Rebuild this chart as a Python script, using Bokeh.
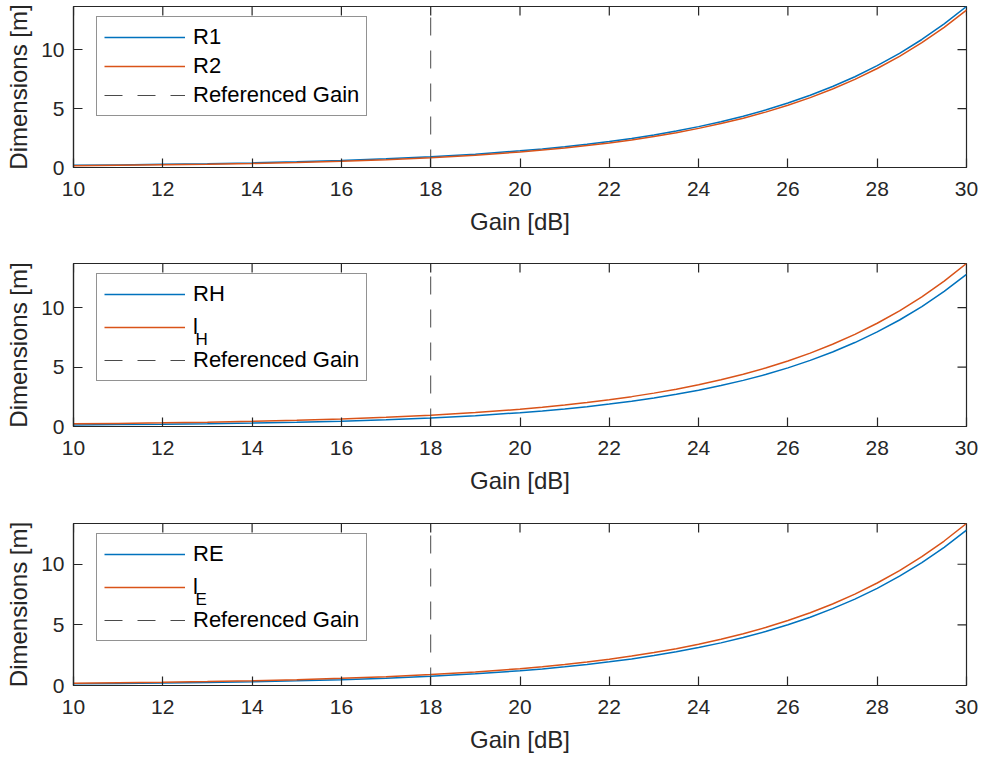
from bokeh.plotting import figure
from bokeh.models import Range1d, Legend, LegendItem, FixedTicker
from bokeh.core.properties import value
from bokeh.layouts import column
from bokeh.embed import file_html
from bokeh.resources import INLINE

# ---------------- data ----------------
GAIN = [10, 11, 12, 13, 14, 15, 16, 17, 18, 19,
        20, 20.5, 21, 21.5, 22, 22.5, 23, 23.5, 24, 24.5, 25,
        25.5, 26, 26.5, 27, 27.5, 28, 28.5, 29, 29.5, 30]

R1 = [0.186, 0.221, 0.266, 0.321, 0.392, 0.480, 0.591, 0.732, 0.908, 1.130,
      1.410, 1.576, 1.762, 1.971, 2.205, 2.468, 2.764, 3.095, 3.466, 3.883, 4.351,
      4.875, 5.464, 6.125, 6.866, 7.698, 8.631, 9.678, 10.853, 12.171, 13.65]
R2 = [0.156, 0.187, 0.228, 0.279, 0.344, 0.427, 0.531, 0.665, 0.833, 1.045,
      1.315, 1.476, 1.656, 1.858, 2.086, 2.341, 2.630, 2.953, 3.316, 3.724, 4.182,
      4.696, 5.275, 5.924, 6.654, 7.473, 8.393, 9.426, 10.586, 11.888, 13.35]

RH = [0.134, 0.159, 0.190, 0.232, 0.286, 0.357, 0.449, 0.567, 0.719, 0.914,
      1.162, 1.311, 1.480, 1.669, 1.884, 2.126, 2.399, 2.706, 3.053, 3.444, 3.883,
      4.378, 4.935, 5.563, 6.270, 7.065, 7.959, 8.965, 10.097, 11.369, 12.80]
LH = [0.226, 0.262, 0.306, 0.362, 0.432, 0.521, 0.633, 0.773, 0.950, 1.173,
      1.453, 1.619, 1.806, 2.015, 2.250, 2.514, 2.810, 3.141, 3.514, 3.932, 4.400,
      4.926, 5.516, 6.178, 6.921, 7.755, 8.690, 9.739, 10.917, 12.238, 13.72]

RE = [0.138, 0.165, 0.202, 0.247, 0.307, 0.383, 0.479, 0.604, 0.761, 0.961,
      1.216, 1.368, 1.539, 1.732, 1.949, 2.193, 2.468, 2.778, 3.125, 3.516, 3.957,
      4.451, 5.008, 5.633, 6.337, 7.127, 8.015, 9.013, 10.135, 11.395, 12.81]
LE = [0.193, 0.227, 0.271, 0.325, 0.394, 0.481, 0.589, 0.727, 0.899, 1.116,
      1.390, 1.552, 1.734, 1.939, 2.168, 2.425, 2.714, 3.038, 3.401, 3.808, 4.266,
      4.779, 5.355, 6.001, 6.726, 7.539, 8.452, 9.476, 10.625, 11.914, 13.36]

REF_GAIN = 18
X_LIM = [10, 30]
Y_LIMS = [[0, 13.65], [0, 13.72], [0, 13.36]]
X_TICKS = [10, 12, 14, 16, 18, 20, 22, 24, 26, 28, 30]
Y_TICKS = [0, 5, 10]

LABELS = [["R1", "R2", "Referenced Gain"],
          ["RH", "l", "Referenced Gain"],
          ["RE", "l", "Referenced Gain"]]
SUBSCRIPTS = [None, "H", "E"]
X_LABEL = "Gain [dB]"
Y_LABEL = "Dimensions [m]"

# ---------------- style ----------------
BLUE = "#0072BD"
RED = "#D95319"
AX = "#262626"
FONT = "Liberation Sans"
TICK_FS = "21px"
LABEL_FS = "24px"
LEG_FS = "22px"
LEG_ITEM_H = 26

W = 982
ML, MR = 73, 16
HEIGHTS = [258, 260, 242]
TOPS = [6, 5, 5]
FRAME_H = [161, 163, 162]
TICK_LEN = 9


def style_axis(ax, ticks):
    ax.ticker = FixedTicker(ticks=ticks)
    ax.axis_line_color = AX
    ax.axis_line_width = 1.2
    ax.major_tick_line_color = AX
    ax.major_tick_line_width = 1.2
    ax.major_tick_in = TICK_LEN
    ax.major_tick_out = 0
    ax.minor_tick_line_color = None
    ax.major_label_text_font = FONT
    ax.major_label_text_font_size = TICK_FS
    ax.major_label_text_color = AX
    ax.axis_label_text_font = FONT
    ax.axis_label_text_font_size = LABEL_FS
    ax.axis_label_text_font_style = "normal"
    ax.axis_label_text_color = AX


def make_panel(i, blue, red):
    h = HEIGHTS[i]
    fh = FRAME_H[i]
    fw = W - ML - MR
    x0, x1 = X_LIM
    y0, y1 = Y_LIMS[i]
    p = figure(width=W, height=h, output_backend="svg", toolbar_location=None,
               x_range=Range1d(x0, x1), y_range=Range1d(y0, y1),
               min_border_left=ML, min_border_right=MR, min_border_top=TOPS[i],
               min_border_bottom=h - fh - TOPS[i])
    p.grid.visible = False
    p.outline_line_color = AX
    p.outline_line_width = 1.2
    p.outline_line_alpha = 1
    p.background_fill_color = "white"

    xa = p.xaxis[0]
    ya = p.yaxis[0]
    style_axis(xa, X_TICKS)
    style_axis(ya, Y_TICKS)
    xa.major_label_standoff = 14
    ya.major_label_standoff = 9
    xa.axis_label = X_LABEL
    ya.axis_label = Y_LABEL
    xa.axis_label_standoff = 9
    ya.axis_label_standoff = 6

    # inward ticks on the top and right edges of the box (MATLAB style)
    dy = TICK_LEN / fh * (y1 - y0)
    dx = TICK_LEN / fw * (x1 - x0)
    p.segment(x0=X_TICKS, y0=[y1] * len(X_TICKS), x1=X_TICKS, y1=[y1 - dy] * len(X_TICKS),
              line_color=AX, line_width=1.2)
    p.segment(x0=[x1] * len(Y_TICKS), y0=Y_TICKS, x1=[x1 - dx] * len(Y_TICKS), y1=Y_TICKS,
              line_color=AX, line_width=1.2)

    rb = p.line(GAIN, blue, line_color=BLUE, line_width=1.5)
    rr = p.line(GAIN, red, line_color=RED, line_width=1.5)
    rd = p.line([REF_GAIN, REF_GAIN], Y_LIMS[i], line_color="#4a4a4a",
                line_width=1, line_dash="18 15")

    sub = SUBSCRIPTS[i]
    labs = LABELS[i]
    leg = Legend(items=[LegendItem(label=labs[0], renderers=[rb]),
                        LegendItem(label=labs[1], renderers=[rr]),
                        LegendItem(label=labs[2], renderers=[rd])])
    pad = 7
    spacing = 3 if sub is None else 7
    leg_h = 2 * pad + 3 * LEG_ITEM_H + 2 * spacing
    leg_left, leg_top = 23, 12
    leg.location = (leg_left, fh - leg_top - leg_h)
    leg.margin = 0
    leg.padding = pad
    leg.spacing = spacing
    leg.glyph_width = 81
    leg.glyph_height = 20
    leg.label_height = 20
    leg.label_standoff = 8
    leg.label_text_font = FONT
    leg.label_text_font_size = LEG_FS
    leg.label_text_color = "black"
    leg.border_line_color = AX
    leg.border_line_width = 1
    # nothing is drawn below the legend box, so a transparent box looks the same
    leg.background_fill_alpha = 0
    p.add_layout(leg)

    if sub:
        # subscript next to the "l" of the second legend entry
        px_x = leg_left + pad + 81 + 8 + 3
        mid = leg_top + pad + LEG_ITEM_H + spacing + LEG_ITEM_H / 2
        px_top = mid + 10.5
        sx = x0 + px_x / fw * (x1 - x0)
        sy = y1 - px_top / fh * (y1 - y0)
        p.text(x=[sx], y=[sy], text=[sub], text_font=value(FONT),
               text_font_size="17px", text_color="black",
               text_baseline="alphabetic", text_align="left")
    return p


panels = [make_panel(0, R1, R2), make_panel(1, RH, LH), make_panel(2, RE, LE)]
layout = column(*panels, spacing=0)
open("out.html", "w").write(file_html(layout, INLINE))
